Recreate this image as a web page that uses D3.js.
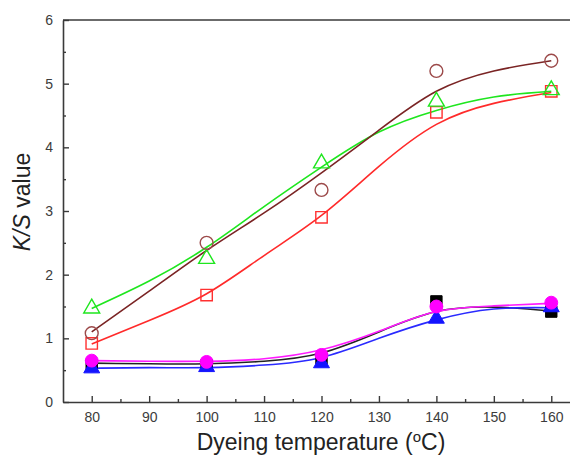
<!DOCTYPE html>
<html>
<head>
<meta charset="utf-8">
<script src="https://cdn.jsdelivr.net/npm/d3@7"></script>
<style>
  body { margin: 0; background: #fff; overflow: hidden; }
  svg { display: block; font-family: "Liberation Sans", Arial, sans-serif; }
</style>
</head>
<body>
<div id="chart"></div>
<script>
// DATA
const temps = [80, 100, 120, 140, 160];
const fitTemps = [80, 90, 100, 110, 120, 130, 140, 150, 160];

const brownPts = [1.08, 2.5, 3.33, 5.2, 5.36];
const greenPts = [1.47, 2.25, 3.75, 4.72, 4.9];
const redPts = [0.92, 1.68, 2.9, 4.55, 4.88];
const blackPts = [0.58, 0.58, 0.68, 1.58, 1.42];
const bluePts = [0.53, 0.55, 0.61, 1.31, 1.49];
const magentaPts = [0.65, 0.63, 0.74, 1.5, 1.56];

const brownFit = [1.1, 1.74, 2.38, 2.97, 3.6, 4.27, 4.88, 5.2, 5.36];
const greenFit = [1.47, 1.9, 2.43, 3.07, 3.69, 4.24, 4.58, 4.79, 4.88];
const redFit = [0.91, 1.28, 1.7, 2.3, 2.93, 3.7, 4.36, 4.69, 4.86];
const blackFit = [0.61, 0.6, 0.6, 0.64, 0.77, 1.1, 1.42, 1.49, 1.43];
const blueFit = [0.53, 0.54, 0.54, 0.58, 0.7, 1.0, 1.29, 1.46, 1.48];
const magentaFit = [0.65, 0.64, 0.64, 0.68, 0.82, 1.11, 1.42, 1.51, 1.55];

const xTicks = [80, 90, 100, 110, 120, 130, 140, 150, 160];
const xMinor = [85, 95, 105, 115, 125, 135, 145, 155];
const yTicks = [0, 1, 2, 3, 4, 5, 6];
const yMinor = [0.5, 1.5, 2.5, 3.5, 4.5, 5.5];

const series = [
  { pts: redPts, fit: redFit, color: '#ff3030', line: '#ff2a2a', shape: 'square', fill: false },
  { pts: greenPts, fit: greenFit, color: '#1ee61e', line: '#1ee61e', shape: 'triangle', fill: false },
  { pts: brownPts, fit: brownFit, color: '#9c4a4a', line: '#7a2424', shape: 'circle', fill: false },
  { pts: blackPts, fit: blackFit, color: '#000', line: '#222', shape: 'square', fill: true },
  { pts: bluePts, fit: blueFit, color: '#1414ff', line: '#2a2aff', shape: 'triangle', fill: true },
  { pts: magentaPts, fit: magentaFit, color: '#ff00ff', line: '#ff1aff', shape: 'circle', fill: true }
];

// VARS
const width = 570, height = 457;
const margin = { top: 20, left: 63, bottom: 55 };
const plotRight = 580; // right frame sits just outside the picture

const svg = d3.select('#chart').append('svg')
  .attr('width', width)
  .attr('height', height);

const x = d3.scaleLinear().domain([75, 165]).range([margin.left, plotRight]);
const y = d3.scaleLinear().domain([0, 6]).range([height - margin.bottom, margin.top]);

const axisColor = '#3a3a3a';
const labelColor = '#3c3c3c';

// axes with inward ticks
svg.append('g')
  .attr('transform', `translate(0,${y(0)})`)
  .call(d3.axisBottom(x).tickValues(xTicks).tickSize(-6).tickSizeOuter(0).tickPadding(10).tickFormat(d3.format('d')));
svg.append('g')
  .attr('transform', `translate(0,${y(0)})`)
  .call(d3.axisBottom(x).tickValues(xMinor).tickSize(-3).tickFormat(''))
  .select('.domain').remove();

svg.append('g')
  .attr('transform', `translate(${margin.left},0)`)
  .call(d3.axisLeft(y).tickValues(yTicks).tickSize(-6).tickSizeOuter(0).tickPadding(10).tickFormat(d3.format('d')));
svg.append('g')
  .attr('transform', `translate(${margin.left},0)`)
  .call(d3.axisLeft(y).tickValues(yMinor).tickSize(-3).tickFormat(''))
  .select('.domain').remove();

svg.selectAll('.domain').attr('stroke', axisColor).attr('stroke-width', 1.6);
svg.selectAll('.tick line').attr('stroke', axisColor).attr('stroke-width', 1.4);
svg.selectAll('.tick text').attr('fill', labelColor).style('font-size', '14px');

// top frame
svg.append('line')
  .attr('x1', margin.left).attr('x2', plotRight)
  .attr('y1', y(6)).attr('y2', y(6))
  .attr('stroke', axisColor).attr('stroke-width', 1.6);

// fitted curves
const line = d3.line()
  .x((d, i) => x(fitTemps[i]))
  .y(d => y(d))
  .curve(d3.curveNatural);

svg.append('g').selectAll('path')
  .data(series)
  .enter()
  .append('path')
    .attr('d', d => line(d.fit))
    .attr('fill', 'none')
    .attr('stroke', d => d.line)
    .attr('stroke-width', 1.6);

// markers
const symbolFor = {
  circle: d3.symbol().type(d3.symbolCircle).size(130),
  square: d3.symbol().type(d3.symbolSquare).size(130),
  triangle: d3.symbol().type(d3.symbolTriangle).size(110)
};

series.forEach(s => {
  svg.append('g').selectAll('path')
    .data(s.pts)
    .enter()
    .append('path')
      .attr('transform', (d, i) => `translate(${x(temps[i])},${y(d)})`)
      .attr('d', symbolFor[s.shape]())
      .attr('fill', s.fill ? s.color : 'none')
      .attr('stroke', s.color)
      .attr('stroke-width', s.fill ? 1 : 1.4);
});

// axis titles
const xTitle = svg.append('text')
  .attr('x', 321)
  .attr('y', 450)
  .attr('text-anchor', 'middle')
  .attr('fill', '#222')
  .style('font-size', '23px');
xTitle.append('tspan').text('Dyeing temperature (');
xTitle.append('tspan').attr('dy', -8).style('font-size', '15px').text('o');
xTitle.append('tspan').attr('dy', 8).text('C)');

const yTitle = svg.append('text')
  .attr('transform', `translate(30,202) rotate(-90)`)
  .attr('text-anchor', 'middle')
  .attr('fill', '#222')
  .style('font-size', '23px');
yTitle.append('tspan').style('font-style', 'italic').text('K/S');
yTitle.append('tspan').text(' value');
</script>
</body>
</html>
